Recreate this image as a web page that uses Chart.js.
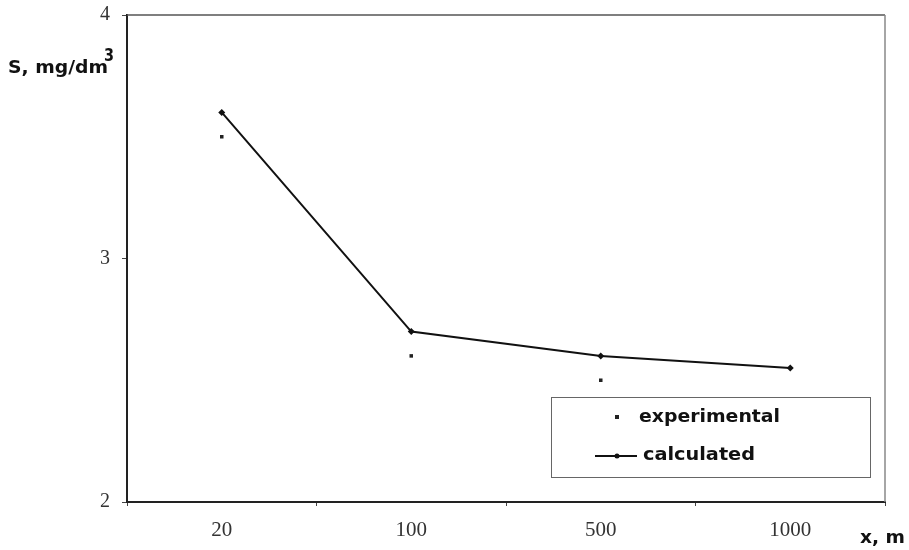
<!DOCTYPE html>
<html>
<head>
<meta charset="utf-8">
<script src="https://cdn.jsdelivr.net/npm/chart.js@4.4.0/dist/chart.umd.min.js"></script>
<style>
  html, body { margin: 0; padding: 0; background: #fff; }
  #wrap { width: 909px; height: 550px; }
</style>
</head>
<body>
<div id="wrap"><canvas id="myChart" width="909" height="550"></canvas></div>
<script>
var categories = ['20', '100', '500', '1000'];
var experimental = [3.5, 2.6, 2.5, null];
var calculated = [3.6, 2.7, 2.6, 2.55];
var yTicks = [2, 3, 4];

// draws text squeezed/stretched to a given width
function fitText(ctx, text, x, y, w) {
	var m = ctx.measureText(text).width;
	ctx.save();
	ctx.translate(x, y);
	ctx.scale(w / m, 1);
	ctx.fillText(text, 0, 0);
	ctx.restore();
}

var boldFont = 'bold 17px "DejaVu Sans", Arial, sans-serif';

var boxPlugin = {
	id: 'boxPlugin',
	afterDraw: function(chart) {
		var ctx = chart.ctx;
		var a = chart.chartArea;
		ctx.save();
		// top and right frame
		ctx.strokeStyle = '#555';
		ctx.lineWidth = 1.5;
		ctx.beginPath();
		ctx.moveTo(a.left, a.top);
		ctx.lineTo(a.right, a.top);
		ctx.stroke();
		ctx.strokeStyle = '#888';
		ctx.beginPath();
		ctx.moveTo(a.right, a.top);
		ctx.lineTo(a.right, a.bottom);
		ctx.stroke();

		// axis titles
		ctx.fillStyle = '#111';
		ctx.textAlign = 'left';
		ctx.textBaseline = 'alphabetic';
		ctx.font = boldFont;
		fitText(ctx, 'S, mg/dm', 8, 73, 100);
		fitText(ctx, '3', 104, 61, 10);
		fitText(ctx, 'x, m', 860, 543, 45);

		// legend
		var lx = 551, ly = 397, lw = 319, lh = 80;
		ctx.fillStyle = '#fff';
		ctx.fillRect(lx, ly, lw, lh);
		ctx.strokeStyle = '#666';
		ctx.lineWidth = 1;
		ctx.strokeRect(lx + 0.5, ly + 0.5, lw, lh);

		var ds = chart.data.datasets;
		ctx.fillStyle = ds[0].pointBackgroundColor;
		ctx.fillRect(615, 415, 4, 4);

		ctx.strokeStyle = ds[1].borderColor;
		ctx.lineWidth = 2;
		ctx.beginPath();
		ctx.moveTo(595, 456);
		ctx.lineTo(637, 456);
		ctx.stroke();
		ctx.fillStyle = ds[1].pointBackgroundColor;
		ctx.beginPath();
		ctx.arc(617, 456, 2.5, 0, Math.PI * 2);
		ctx.fill();

		ctx.fillStyle = '#111';
		ctx.font = boldFont;
		fitText(ctx, ds[0].label, 639, 422, 141);
		fitText(ctx, ds[1].label, 643, 460, 112);
		ctx.restore();
	}
};

var chartConfig = {
	type: 'line',
	data: {
		labels: categories,
		datasets: [{
			label: 'experimental',
			data: experimental,
			showLine: false,
			pointStyle: 'rect',
			pointRadius: 2.5,
			pointBackgroundColor: '#222',
			pointBorderWidth: 0,
			borderColor: '#222'
		}, {
			label: 'calculated',
			data: calculated,
			borderColor: '#111',
			borderWidth: 2,
			pointStyle: 'rectRot',
			pointRadius: 3.5,
			pointBackgroundColor: '#111',
			pointBorderWidth: 0,
			tension: 0
		}]
	},
	options: {
		responsive: false,
		animation: false,
		layout: { padding: { left: 0, right: 24, top: 15, bottom: 0 } },
		plugins: {
			legend: { display: false },
			tooltip: { enabled: false }
		},
		scales: {
			x: {
				offset: true,
				grid: {
					offset: true,
					drawOnChartArea: false,
					tickLength: 4,
					color: '#444'
				},
				border: { color: '#222', width: 2 },
				ticks: {
					color: '#333',
					padding: 12,
					font: { family: '"Liberation Serif", "Times New Roman", serif', size: 21 }
				},
				afterFit: function(s) { s.height = 48; s.paddingLeft = 0; s.paddingRight = 0; }
			},
			y: {
				min: 2,
				max: 4,
				afterBuildTicks: function(s) {
					s.ticks = yTicks.map(function(v) { return { value: v }; });
				},
				grid: {
					drawOnChartArea: false,
					tickLength: 5,
					color: '#444'
				},
				border: { color: '#222', width: 2 },
				ticks: {
					color: '#333',
					padding: 12,
					font: { family: '"Liberation Serif", "Times New Roman", serif', size: 20 }
				},
				afterFit: function(s) { s.width = 127; s.paddingTop = 0; s.paddingBottom = 0; }
			}
		}
	},
	plugins: [boxPlugin]
};

var ctx = document.getElementById('myChart').getContext('2d');
var myChart = new Chart(ctx, chartConfig);
</script>
</body>
</html>
